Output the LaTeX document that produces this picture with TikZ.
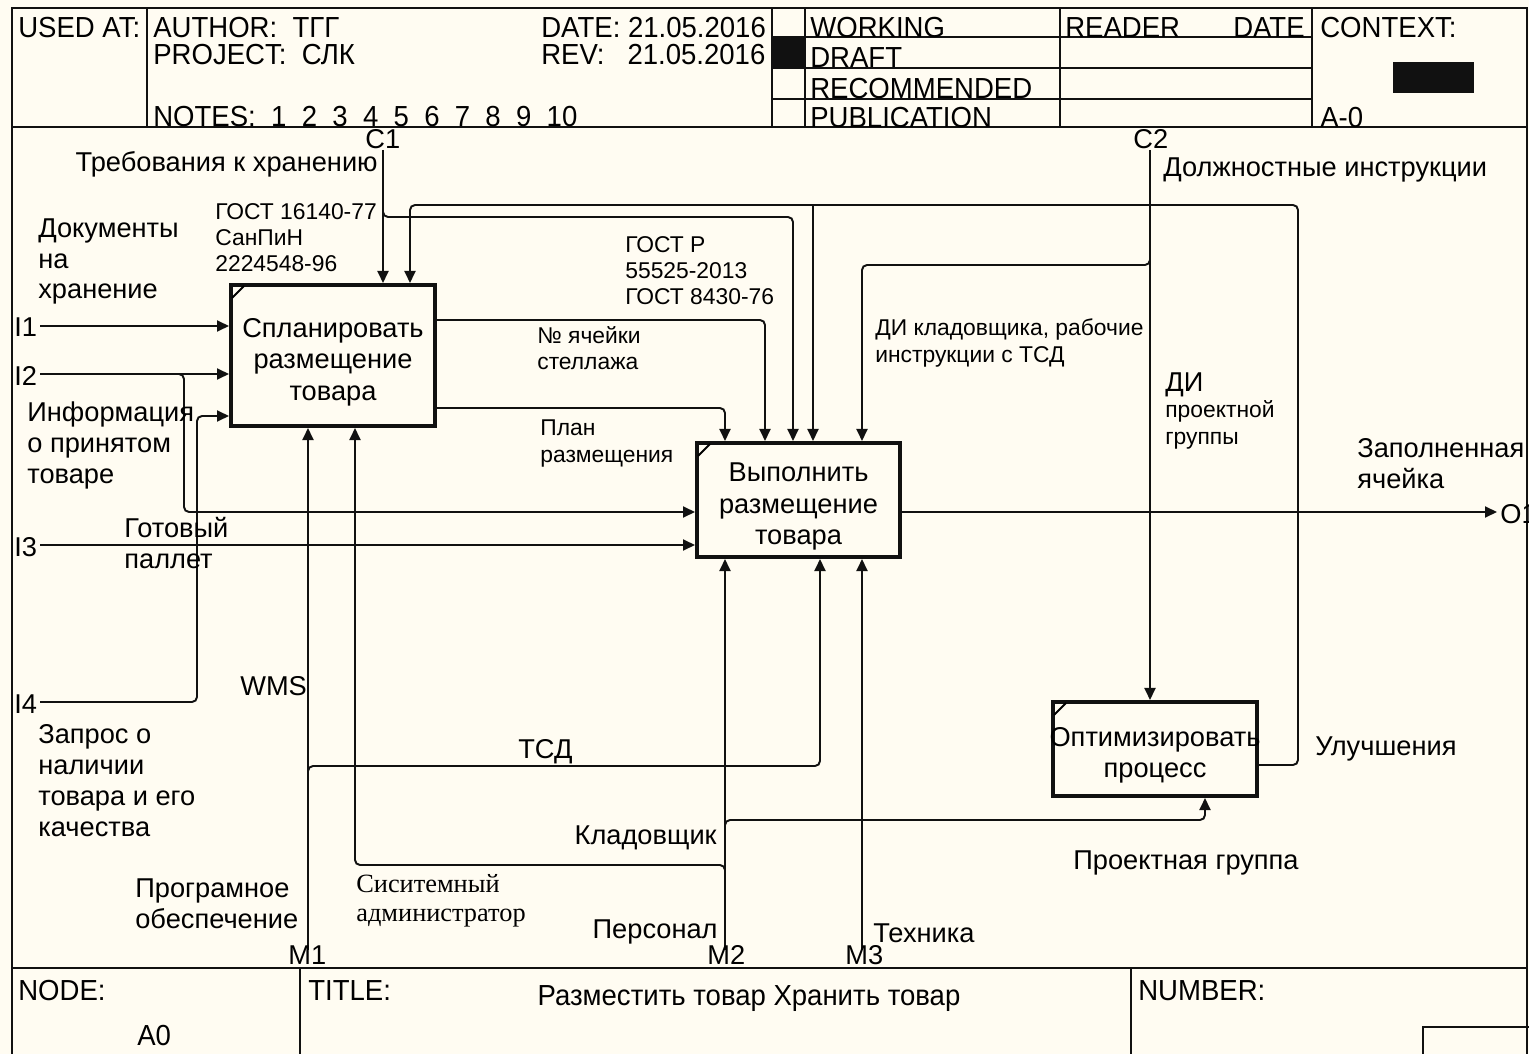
\documentclass[tikz,border=0pt]{standalone}
\usepackage{fontspec}
\setmainfont{Liberation Sans}
\newfontfamily\serifrm{Liberation Serif}
\newfontfamily\hdrfont[FakeStretch=0.95]{Liberation Sans}
\usetikzlibrary{arrows.meta,positioning,calc}
\definecolor{idefbg}{HTML}{FFFCF2}
\definecolor{idefln}{HTML}{111111}

\begin{document}
\begin{tikzpicture}[x=0.02cm,y=-0.02cm,
      box/.style={draw=idefln,line width=2.3pt,fill=idefbg,inner sep=0pt},
      boxtxt/.style={align=center,inner sep=0pt,yshift=-0.13cm,font=\fontsize{15.5}{18}\selectfont},
      arr/.style={-{Triangle[length=2.4mm,width=2.2mm]},line width=1.1pt,draw=idefln,rounded corners=0.1cm},
      frm/.style={line width=1.1pt,draw=idefln},
      lbl/.style={inner sep=0pt,anchor=base west,align=left,font=\fontsize{15.5}{17.6}\selectfont},
      sml/.style={lbl,font=\fontsize{13}{14.8}\selectfont},
      hdr/.style={inner sep=0pt,anchor=base west,font=\hdrfont\fontsize{16.5}{18}\selectfont}]
    \useasboundingbox (0,0) rectangle (1529,1054);
    \fill[idefbg] (0,0) rectangle (1529,1054);

    % frame
    \draw[frm] (12,1054) -- (12,8) -- (1527,8) -- (1527,1054);
    \draw[frm] (12,127) -- (1527,127);
    \draw[frm] (12,968) -- (1527,968);
    \foreach \xx in {147,772,805,1060,1312} \draw[frm] (\xx,8) -- (\xx,127);
    \foreach \yy in {37,68,99} \draw[frm] (772,\yy) -- (1312,\yy);
    \foreach \xx in {300,1131} \draw[frm] (\xx,968) -- (\xx,1054);
    \fill[idefln] (772,37) rectangle (805,68);
    \fill[idefln] (1393,62) rectangle (1474,93);
    \draw[frm] (1423,1060) -- (1423,1027) -- (1535,1027);

    \node[hdr] (usedat) at (18,38) {USED AT:};
    \node[hdr] (author) at (153,38) {AUTHOR:\ \ ТГГ};
    \node[hdr] (project) at (153,65) {PROJECT:\ \ СЛК};
    \node[hdr] (notes) at (153,127) {NOTES:\ \ 1\ \ 2\ \ 3\ \ 4\ \ 5\ \ 6\ \ 7\ \ 8\ \ 9\ \ 10};
    \node[hdr] (date) at (541,38) {DATE: 21.05.2016};
    \node[hdr] (rev) at (541,65) {REV:\ \ \ 21.05.2016};
    \node[hdr] (working) at (810,38) {WORKING};
    \node[hdr] (draft) at (810,68) {DRAFT};
    \node[hdr] (recomm) at (810,99) {RECOMMENDED};
    \node[hdr] (public) at (810,128) {PUBLICATION};
    \node[hdr] (reader) at (1065,38) {READER};
    \node[hdr,anchor=base east] (rdate) at (1305,38) {DATE};
    \node[hdr] (context) at (1320,38) {CONTEXT:};
    \node[hdr] (ctxnum) at (1320,128) {A-0};
    \node[hdr] (nodelbl) at (18,1000) {NODE:};
    \node[hdr] (nodenum) at (137,1045) {A0};
    \node[hdr] (titlelbl) at (308,1000) {TITLE:};
    \node[hdr,anchor=base] (title) at (749,1005) {Разместить товар Хранить товар};
    \node[hdr] (numberlbl) at (1138,1000) {NUMBER:};

    % activities
    \node[box,minimum width=4.08cm,minimum height=2.82cm,
      label={[boxtxt]center:{Спланировать\\размещение\\товара}}] (a1) at (333,355.5) {};
    \node[box,minimum width=4.06cm,minimum height=2.28cm,
      label={[boxtxt]center:{Выполнить\\размещение\\товара}}] (a2) at (798.5,500) {};
    \node[box,minimum width=4.08cm,minimum height=1.88cm,
      label={[boxtxt]center:{Оптимизировать\\процесс}}] (a3) at (1155,749) {};
    \foreach \b in {a1,a2,a3}
      \draw[line width=1.1pt] (\b.north west) ++(3,15) -- ++(12,-12);

    % boundary points
    \coordinate (c1) at (383,150);
    \coordinate (c2) at (1150,150);
    \coordinate (i1) at (40,326);
    \coordinate (i2) at (40,374);
    \coordinate (i3) at (40,545);
    \coordinate (i4) at (40,702);
    \coordinate (m1) at (308,950);
    \coordinate (m2) at (725,950);
    \coordinate (m3) at (862,950);
    \coordinate (o1) at (1497,512);

    % bend points
    \coordinate (gost) at (793,217);
    \coordinate (cell) at (765,320);
    \coordinate (plan) at (725,408);
    \coordinate (imprR) at (1298,765);
    \coordinate (imprL) at (410,205);
    \coordinate (imprM) at (813,205);
    \coordinate (dik) at (862,265);
    \coordinate (i2b) at (184,512);
    \coordinate (i4b) at (197,416);
    \coordinate (tsd) at (820,766);
    \coordinate (proj) at (1205,820);
    \coordinate (adm) at (355,865);

    \draw[arr] (c1) -- (c1 |- a1.north);
    \draw[arr] (c1 |- 0,205) |- (gost) -- (gost |- a2.north);
    \draw[arr] (a1.east |- cell) -| (cell |- a2.north);
    \draw[arr] (a1.east |- plan) -| (plan |- a2.north);
    \draw[arr] (a3.east |- imprR) -- (imprR) |- (imprL) -- (imprL |- a1.north);
    \draw[arr] (imprM) -- (imprM |- a2.north);
    \draw[arr] (c2) -- (c2 |- a3.north);
    \draw[arr] (c2 |- 0,250) |- (dik) -- (dik |- a2.north);
    \draw[arr] (a2.east |- o1) -- (o1);
    \draw[arr] (i1) -- (i1 -| a1.west);
    \draw[arr] (i2) -- (i2 -| a1.west);
    \draw[arr] (i2 -| 170,0) -| (i2b) -- (i2b -| a2.west);
    \draw[arr] (i3) -- (i3 -| a2.west);
    \draw[arr] (i4) -| (i4b) -- (i4b -| a1.west);
    \draw[arr] (m1) -- (m1 |- a1.south);
    \draw[arr] (m1 |- 0,780) |- (tsd) -- (tsd |- a2.south);
    \draw[arr] (m2) -- (m2 |- a2.south);
    \draw[arr] (m2 |- 0,832) |- (proj) -- (proj |- a3.south);
    \draw[arr] (m2 |- 0,878) |- (adm) -- (adm |- a1.south);
    \draw[arr] (m3) -- (m3 |- a2.south);

    % labels (multi-line ones sit on the baseline of their last line)
    \node[lbl] (c1lbl) at (365,149) {C1};
    \node[lbl] (c2lbl) at (1133,149) {C2};
    \node[lbl,anchor=base east] (req) at (378,172) {Требования к хранению};
    \node[lbl] (duty) at (1163,177) {Должностные инструкции};
    \node[sml] (gostlbl) at (215,272) {ГОСТ 16140-77\\СанПиН\\2224548-96};
    \node[sml] (gostrlbl) at (625,305) {ГОСТ Р\\55525-2013\\ГОСТ 8430-76};
    \node[sml] (celllbl) at (537,370) {№ ячейки\\стеллажа};
    \node[sml] (planlbl) at (540,462) {План\\размещения};
    \node[sml] (diklbl) at (875,362) {ДИ кладовщика, рабочие\\инструкции с ТСД};
    \node[sml] (diplbl) at (1165,444) {{\fontsize{15.5}{14.8}\selectfont ДИ}\\проектной\\группы};
    \node[lbl] (docs) at (38,299) {Документы\\на\\хранение};
    \node[lbl] (i1lbl) at (14,337) {I1};
    \node[lbl] (i2lbl) at (14,385) {I2};
    \node[lbl] (i3lbl) at (14,556) {I3};
    \node[lbl] (i4lbl) at (14,713) {I4};
    \node[lbl] (info) at (27,483) {Информация\\о принятом\\товаре};
    \node[lbl] (pallet) at (124,568) {Готовый\\паллет};
    \node[lbl] (query) at (38,836) {Запрос о\\наличии\\товара и его\\качества};
    \node[lbl] (cellout) at (1357,488) {Заполненная\\ячейка};
    \node[lbl] (o1lbl) at (1500,523) {O1};
    \node[lbl] (impr) at (1315,755) {Улучшения};
    \node[lbl] (wms) at (240,695) {WMS};
    \node[lbl] (tsdlbl) at (518,758) {ТСД};
    \node[lbl,anchor=base east] (keeper) at (717,844) {Кладовщик};
    \node[lbl] (soft) at (135,928) {Програмное\\обеспечение};
    \node[lbl,font=\serifrm\fontsize{15}{16}\selectfont] (admlbl) at (356,921) {Сиситемный\\администратор};
    \node[lbl,anchor=base east] (staff) at (718,938) {Персонал};
    \node[lbl] (tech) at (873,942) {Техника};
    \node[lbl] (projlbl) at (1073,869) {Проектная группа};
    \node[lbl] (m1lbl) at (288,964) {M1};
    \node[lbl] (m2lbl) at (707,964) {M2};
    \node[lbl] (m3lbl) at (845,964) {M3};
  \end{tikzpicture}
\end{document}
